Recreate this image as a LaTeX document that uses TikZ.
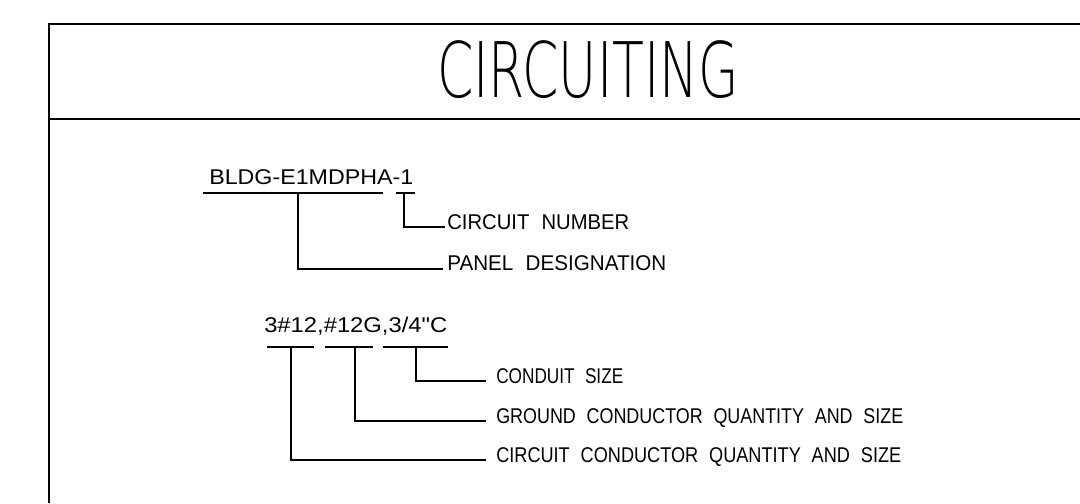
\documentclass[tikz,border=0pt]{standalone}
\usepackage{fontspec}
\setmainfont{Liberation Sans}
\newfontfamily\thinfont{DejaVu Sans ExtraLight}
\usepackage{graphicx}
\newcommand{\cadtxt}[2]{\resizebox{#1}{\height}{#2}}
\newcommand{\dq}{\XeTeXglyph\XeTeXglyphindex "quotedbl"\relax}
\newcommand{\lblfont}{\fontsize{16pt}{18pt}\selectfont\spaceskip 0.6em\relax}
\begin{document}
\begin{tikzpicture}[x=0.75pt,y=-0.75pt,
  frame/.style={line width=1.4pt},
  leader/.style={line width=0.8pt},
  lbl/.style={inner sep=0pt, anchor=base west, font=\lblfont},
  ttl/.style={inner sep=0pt, anchor=base, font=\thinfont\fontsize{57.5pt}{60pt}\selectfont}]
\useasboundingbox (0,0) rectangle (1080,503);
% frame
\coordinate (ftl) at (49,24);
\coordinate (ftr) at (1080,24);
\coordinate (fbl) at (49,503);
\coordinate (dl) at (49,119);
\coordinate (dr) at (1080,119);
\draw[frame] (ftr) -- (ftl) -- (fbl);
\draw[frame] (dl) -- (dr);
\node[ttl] (title) at (588,98) {\cadtxt{226.5pt}{CIRCUITING}};

% group 1
\node[lbl] (bldg) at (209,184) {\cadtxt{153pt}{BLDG-E1MDPHA-1}};
\coordinate (u1a) at (203,193); \coordinate (u1b) at (383,193);
\coordinate (u2a) at (396,193); \coordinate (u2b) at (415,193);
\draw[leader] (u1a) -- (u1b);
\draw[leader] (u2a) -- (u2b);
\coordinate (tpanel) at (298,193);
\coordinate (tcirc) at (404,193);
\coordinate (epanel) at (443,269);
\coordinate (ecirc) at (445,227);
\node[lbl] (circnum) at (447,229) {\cadtxt{136.5pt}{CIRCUIT NUMBER}};
\node[lbl] (panel) at (447,270) {\cadtxt{164.25pt}{PANEL DESIGNATION}};
\draw[leader] (tcirc) |- (ecirc);
\draw[leader] (tpanel) |- (epanel);

% group 2
\node[lbl] (wire) at (264,332) {\cadtxt{137.25pt}{3\#12,\#12G,3/4\dq C}};
\coordinate (w1a) at (267,347); \coordinate (w1b) at (314,347);
\coordinate (w2a) at (325,347); \coordinate (w2b) at (373,347);
\coordinate (w3a) at (383,347); \coordinate (w3b) at (448,347);
\draw[leader] (w1a) -- (w1b);
\draw[leader] (w2a) -- (w2b);
\draw[leader] (w3a) -- (w3b);
\coordinate (tcc) at (291,347);
\coordinate (tgc) at (355,347);
\coordinate (tcs) at (416,347);
\coordinate (ecs) at (486,381);
\coordinate (egc) at (486,421);
\coordinate (ecc) at (486,460);
\node[lbl] (conduit) at (496,383) {\cadtxt{95.25pt}{CONDUIT SIZE}};
\node[lbl] (ground) at (496,423) {\cadtxt{305.25pt}{GROUND CONDUCTOR QUANTITY AND SIZE}};
\node[lbl] (circcond) at (496,462) {\cadtxt{303.75pt}{CIRCUIT CONDUCTOR QUANTITY AND SIZE}};
\draw[leader] (tcs) |- (ecs);
\draw[leader] (tgc) |- (egc);
\draw[leader] (tcc) |- (ecc);
\end{tikzpicture}
\end{document}
